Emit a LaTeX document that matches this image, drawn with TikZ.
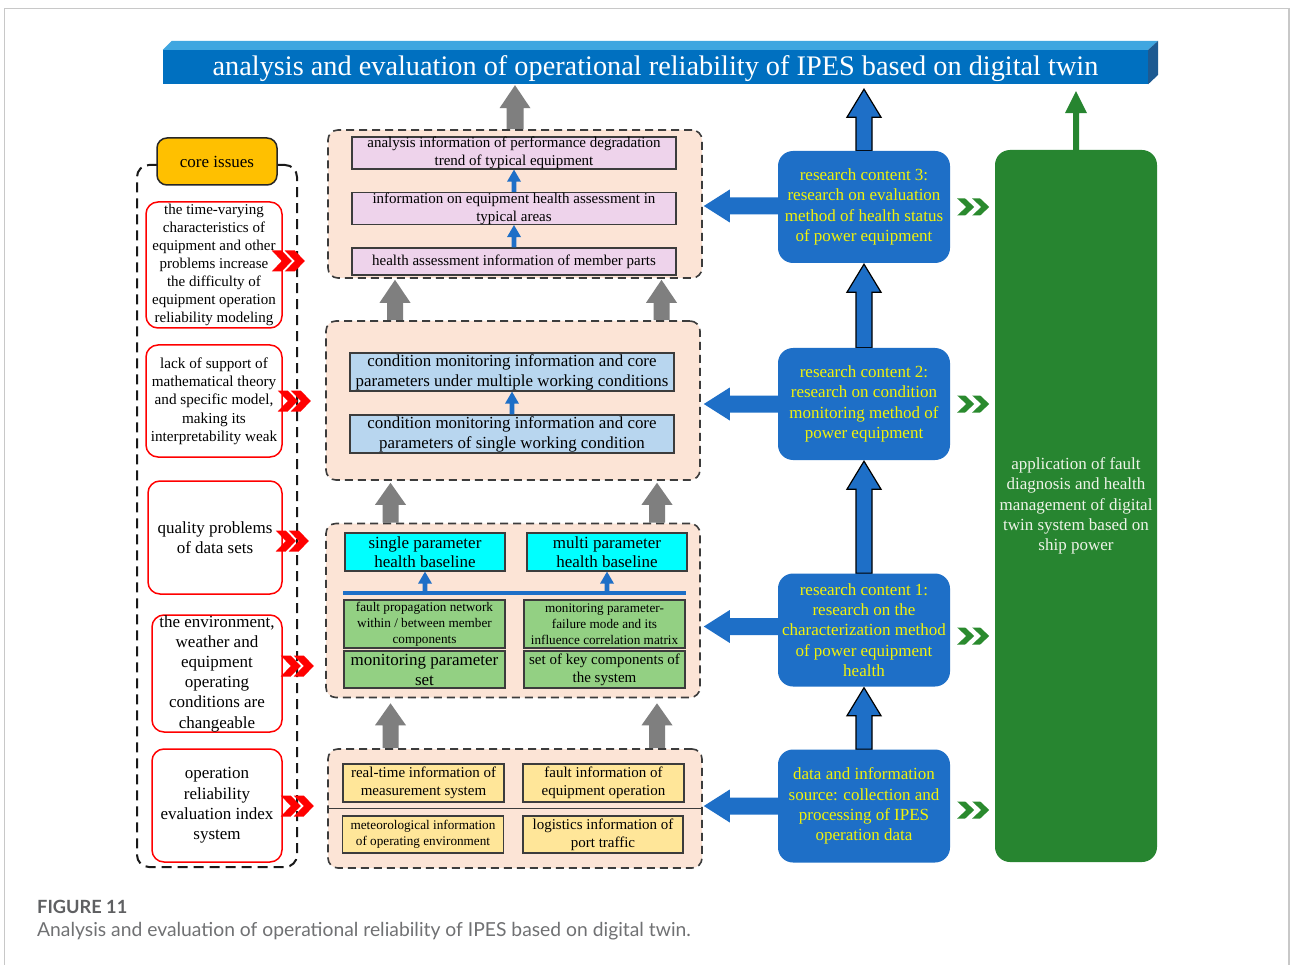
\documentclass[tikz,border=0pt]{standalone}
\usepackage{fontspec}
\setmainfont{Liberation Serif}
\newfontfamily\capfont{Lato}
\usetikzlibrary{calc}

\definecolor{titleblue}{HTML}{0070C0}
\definecolor{titletop}{HTML}{3FA6E0}
\definecolor{titleside}{HTML}{1D5A92}
\definecolor{peach}{HTML}{FCE4D6}
\definecolor{pinkbox}{HTML}{EED3EB}
\definecolor{skybox}{HTML}{B8D6EF}
\definecolor{cyanbox}{HTML}{00FFFF}
\definecolor{leafbox}{HTML}{93D083}
\definecolor{sandbox}{HTML}{FFE699}
\definecolor{coreorange}{HTML}{FFC000}
\definecolor{resblue}{HTML}{1E6FC7}
\definecolor{resyellow}{HTML}{F2F20A}
\definecolor{appgreen}{HTML}{278530}
\definecolor{chevgreen}{HTML}{2A8A2E}
\definecolor{arrowgray}{HTML}{7F7F7F}
\definecolor{framegray}{HTML}{C8C8C8}
\definecolor{labelgray}{HTML}{5F6062}
\definecolor{capgray}{HTML}{707173}
\definecolor{boxedge}{HTML}{3C3C3C}
\definecolor{apptext}{HTML}{EEF3E8}

\pgfdeclarelayer{back}
\pgfsetlayers{back,main}

% vertical block arrow: tail point, tip point, half shaft, half head, head length, style
\newcommand\uparrowblock[6]{%
  \path[#6] let \p1=#1, \p2=#2 in
    (\x1-#3,\y1) -- (\x1-#3,\y2-#5) -- (\x1-#4,\y2-#5) -- (\x1,\y2)
    -- (\x1+#4,\y2-#5) -- (\x1+#3,\y2-#5) -- (\x1+#3,\y1) -- cycle;}
% horizontal block arrow pointing left: tail point, tip point, half shaft, half head, head length, style
\newcommand\leftarrowblock[6]{%
  \path[#6] let \p1=#1, \p2=#2 in
    (\x1,\y1-#3) -- (\x2+#5,\y1-#3) -- (\x2+#5,\y1-#4) -- (\x2,\y1)
    -- (\x2+#5,\y1+#4) -- (\x2+#5,\y1+#3) -- (\x1,\y1+#3) -- cycle;}
% double chevrons
\newcommand\redchevrons[1]{%
  \fill[red, shift={#1}] (0,-10.5) -- (10,-10.5) -- (20,0) -- (10,10.5) -- (0,10.5) -- (10,0) -- cycle
    (13,-10.5) -- (23,-10.5) -- (33,0) -- (23,10.5) -- (13,10.5) -- (23,0) -- cycle;}
\newcommand\greenchevrons[1]{%
  \fill[chevgreen, shift={#1}] (0,-8.5) -- (8,-8.5) -- (17,0) -- (8,8.5) -- (0,8.5) -- (9,0) -- cycle
    (15,-8.5) -- (23,-8.5) -- (32,0) -- (23,8.5) -- (15,8.5) -- (24,0) -- cycle;}

\tikzset{
  container/.style={draw=boxedge, fill=peach, dash pattern=on 8pt off 5pt, line width=1.6pt,
    rounded corners=10pt, inner sep=0pt},
  infobox/.style={draw=boxedge, line width=1.3pt, inner sep=0pt, align=center},
  problem/.style={draw=red, line width=1.5pt, fill=white, rounded corners=12pt, inner sep=0pt,
    align=center, font={\fontsize{17}{20.2}\selectfont}},
  research/.style={fill=resblue, rounded corners=15pt, inner sep=0pt, align=center, text=resyellow,
    font={\fontsize{17}{20.3}\selectfont}},
}

\begin{document}
\begin{tikzpicture}[x=1pt,y=-1pt]
\useasboundingbox (0,0) rectangle (1290,965);
\begin{pgfonlayer}{back}
  \fill[white] (0,0) rectangle (1290,965);
\end{pgfonlayer}

% card frame
\draw[framegray, line width=1.2pt] (4.5,965) -- (4.5,8.5) -- (1289,8.5) -- (1289,965);

% title bar
\node[fill=titleblue, minimum width=985pt, minimum height=34pt, inner sep=0pt] (title) at (655.5,67) {};
\fill[titletop] (title.north west) -- ++(9,-9) -- ($(title.north east)+(10,-9)$) -- (title.north east) -- cycle;
\fill[titleside] (title.north east) -- ++(10,-9) -- ++(0,34) -- (title.south east) -- cycle;
\node[text=white, inner sep=0pt, yshift=-2pt, font={\fontsize{28.3}{32}\selectfont}] (titletext) at (title)
  {analysis and evaluation of operational reliability of IPES based on digital twin};

% core issues column
\node[draw=black!90, dash pattern=on 10pt off 6pt, line width=2pt, rounded corners=12pt,
  minimum width=160pt, minimum height=702pt, inner sep=0pt] (issues) at (217,516) {};
\node[draw=black!85, fill=coreorange, line width=1.5pt, rounded corners=10pt, minimum width=120pt,
  minimum height=47pt, inner sep=0pt, font={\fontsize{17}{20}\selectfont}] (core) at (217,161.5) {core issues};
\node[problem, minimum width=136pt, minimum height=126pt, font={\fontsize{15}{18}\selectfont}] (r1) at (214,265)
  {the time-varying\\characteristics of\\equipment and other\\problems increase\\the difficulty of\\equipment operation\\reliability modeling};
\node[problem, minimum width=136pt, minimum height=112pt, font={\fontsize{15.2}{18.3}\selectfont}] (r2) at (214,401)
  {lack of support of\\mathematical theory\\and specific model,\\making its\\interpretability weak};
\node[problem, minimum width=134pt, minimum height=113pt] (r3) at (215,537.5)
  {quality problems\\of data sets};
\node[problem, minimum width=130pt, minimum height=117pt] (r4) at (217,673.5)
  {the environment,\\weather and\\equipment\\operating\\conditions are\\changeable};
\node[problem, minimum width=130pt, minimum height=113pt] (r5) at (217,805.5)
  {operation\\reliability\\evaluation index\\system};

% middle containers
\node[container, minimum width=374pt, minimum height=148pt] (A) at (515,204) {};
\node[container, minimum width=374pt, minimum height=159pt] (B) at (513,400.5) {};
\node[container, minimum width=374pt, minimum height=174pt] (C) at (513,610.5) {};
\node[container, minimum width=374pt, minimum height=119pt] (D) at (515,808.5) {};

% health assessment information
\node[infobox, fill=pinkbox, minimum width=324pt, minimum height=32pt, font={\fontsize{15}{18}\selectfont}] (p1) at (514,153)
  {analysis information of performance degradation\\trend of typical equipment};
\node[infobox, fill=pinkbox, minimum width=324pt, minimum height=31pt, font={\fontsize{15}{18}\selectfont}] (p2) at (514,208.5)
  {information on equipment health assessment in\\typical areas};
\node[infobox, fill=pinkbox, minimum width=324pt, minimum height=27pt, font={\fontsize{15}{18}\selectfont}] (p3) at (514,261.5)
  {health assessment information of member parts};

% condition monitoring information
\node[infobox, fill=skybox, minimum width=324pt, minimum height=38pt, font={\fontsize{16.9}{20}\selectfont}] (s2) at (512,372)
  {condition monitoring information and core\\parameters under multiple working conditions};
\node[infobox, fill=skybox, minimum width=324pt, minimum height=38pt, font={\fontsize{16.9}{20}\selectfont}] (s1) at (512,434)
  {condition monitoring information and core\\parameters of single working condition};

% health baselines
\node[infobox, fill=cyanbox, minimum width=160pt, minimum height=38pt, font={\fontsize{17}{19}\selectfont}] (c1) at (425,552)
  {single parameter\\health baseline};
\node[infobox, fill=cyanbox, minimum width=160pt, minimum height=38pt, font={\fontsize{17}{19}\selectfont}] (c2) at (607,552)
  {multi parameter\\health baseline};
\coordinate (barL) at (343,593);
\coordinate (barR) at (686,593);
\draw[resblue, line width=4pt] (barL) -- (barR);
\node[infobox, fill=leafbox, minimum width=161pt, minimum height=48pt, font={\fontsize{13.2}{16}\selectfont}] (g1) at (424.5,624)
  {fault propagation network\\within / between member\\components};
\node[infobox, fill=leafbox, minimum width=161pt, minimum height=37pt, font={\fontsize{17}{20}\selectfont}] (g2) at (424.5,669.5)
  {monitoring parameter\\set};
\node[infobox, fill=leafbox, minimum width=161pt, minimum height=48pt, font={\fontsize{13.2}{16}\selectfont}] (g3) at (604.5,624)
  {monitoring parameter-\\failure mode and its\\influence correlation matrix};
\node[infobox, fill=leafbox, minimum width=161pt, minimum height=37pt, font={\fontsize{15}{18}\selectfont}] (g4) at (604.5,669.5)
  {set of key components of\\the system};

% data sources
\draw[boxedge, line width=1.3pt] (D.west) -- (D.east);
\node[infobox, fill=sandbox, minimum width=161pt, minimum height=38pt, font={\fontsize{15}{18}\selectfont}] (y1) at (423.5,783)
  {real-time information of\\measurement system};
\node[infobox, fill=sandbox, minimum width=161pt, minimum height=38pt, font={\fontsize{15}{18}\selectfont}] (y2) at (603.5,783)
  {fault information of\\equipment operation};
\node[infobox, fill=sandbox, minimum width=161pt, minimum height=37pt, font={\fontsize{13.2}{16}\selectfont}] (y3) at (423,834.5)
  {meteorological information\\of operating environment};
\node[infobox, fill=sandbox, minimum width=160pt, minimum height=37pt, font={\fontsize{15}{18}\selectfont}] (y4) at (603,834.5)
  {logistics information of\\port traffic};

% research contents
\node[research, minimum width=172pt, minimum height=112pt] (R3) at (864,207)
  {research content 3:\\research on evaluation\\method of health status\\of power equipment};
\node[research, minimum width=172pt, minimum height=112pt] (R2) at (864,404)
  {research content 2:\\research on condition\\monitoring method of\\power equipment};
\node[research, minimum width=172pt, minimum height=113pt] (R1) at (864,630)
  {research content 1:\\research on the\\characterization method\\of power equipment\\health};
\node[research, minimum width=172pt, minimum height=113pt] (R0) at (864,806)
  {data and information\\source: collection and\\processing of IPES\\operation data};

% application
\node[fill=appgreen, rounded corners=15pt, minimum width=162pt, minimum height=712pt, inner sep=0pt] (G) at (1076,506) {};
\node[align=center, text=apptext, inner sep=0pt, font={\fontsize{17}{20.3}\selectfont}] (Gtext) at (G)
  {application of fault\\diagnosis and health\\management of digital\\twin system based on\\ship power};

% small blue arrows inside containers
\uparrowblock{(p2.north)}{(p1.south)}{2.3pt}{7pt}{12pt}{fill=resblue}
\uparrowblock{(p3.north)}{(p2.south)}{2.3pt}{7pt}{12pt}{fill=resblue}
\uparrowblock{(s1.north)}{(s2.south)}{2.3pt}{7pt}{12pt}{fill=resblue}
\uparrowblock{(c1.south |- barL)}{(c1.south)}{2.3pt}{7pt}{12pt}{fill=resblue}
\uparrowblock{(c2.south |- barL)}{(c2.south)}{2.3pt}{7pt}{12pt}{fill=resblue}

\coordinate (gxa) at (395,0);
\coordinate (gxb) at (661.5,0);
\coordinate (gxc) at (390.5,0);
\coordinate (gxd) at (657,0);

\begin{pgfonlayer}{back}
  % grey flow arrows
  \uparrowblock{(A.north)}{($(title.south)+(0,1)$)}{8.5pt}{15.5pt}{23pt}{fill=arrowgray}
  \uparrowblock{(B.north -| gxa)}{($(A.south -| gxa)+(0,1)$)}{8pt}{15.5pt}{23pt}{fill=arrowgray}
  \uparrowblock{(B.north -| gxb)}{($(A.south -| gxb)+(0,1)$)}{8pt}{15.5pt}{23pt}{fill=arrowgray}
  \uparrowblock{(C.north -| gxc)}{($(B.south -| gxc)+(0,2)$)}{8pt}{15.5pt}{22pt}{fill=arrowgray}
  \uparrowblock{(C.north -| gxd)}{($(B.south -| gxd)+(0,2)$)}{8pt}{15.5pt}{22pt}{fill=arrowgray}
  \uparrowblock{(D.north -| gxc)}{($(C.south -| gxc)+(0,5)$)}{8pt}{15.5pt}{22pt}{fill=arrowgray}
  \uparrowblock{(D.north -| gxd)}{($(C.south -| gxd)+(0,5)$)}{8pt}{15.5pt}{22pt}{fill=arrowgray}
  % blue research arrows
  \uparrowblock{(R0.north)}{($(R1.south)+(0,1)$)}{8pt}{17pt}{28pt}{fill=resblue, draw=black, line width=1.2pt}
  \uparrowblock{(R1.north)}{($(R2.south)+(0,1)$)}{8pt}{17pt}{28pt}{fill=resblue, draw=black, line width=1.2pt}
  \uparrowblock{(R2.north)}{($(R3.south)+(0,1)$)}{8pt}{17pt}{28pt}{fill=resblue, draw=black, line width=1.2pt}
  \uparrowblock{(R3.north)}{($(title.south)+(0,5)$)}{8pt}{17pt}{28pt}{fill=resblue, draw=black, line width=1.2pt}
  \leftarrowblock{($(R3.west)+(4,-1)$)}{($(A.east |- R3.west)+(1,0)$)}{8.5pt}{16.5pt}{26pt}{fill=resblue}
  \leftarrowblock{($(R2.west)+(4,0)$)}{($(B.east |- R2.west)+(3,0)$)}{8.5pt}{16.5pt}{26pt}{fill=resblue}
  \leftarrowblock{($(R1.west)+(4,-3.5)$)}{($(C.east |- R1.west)+(3,0)$)}{8.5pt}{16.5pt}{26pt}{fill=resblue}
  \leftarrowblock{($(R0.west)+(4,0)$)}{($(D.east |- R0.west)+(1,0)$)}{8.5pt}{16.5pt}{26pt}{fill=resblue}
  % application arrow
  \uparrowblock{(G.north)}{($(title.south)+(0,7)$)}{3pt}{11pt}{22pt}{fill=appgreen}
\end{pgfonlayer}

% chevrons
\redchevrons{($(r1.east)+(-11,-4)$)}
\redchevrons{($(r2.east)+(-5,0)$)}
\redchevrons{($(r3.east)+(-7,3.5)$)}
\redchevrons{($(r4.east)+(-2,-7.5)$)}
\redchevrons{($(r5.east)+(-2,0.5)$)}
\greenchevrons{($(R3.east)+(7,0)$)}
\greenchevrons{($(R2.east)+(7,0)$)}
\greenchevrons{($(R1.east)+(7,6)$)}
\greenchevrons{($(R0.east)+(7,4)$)}

% caption
\node[anchor=base west, inner sep=0pt, text=labelgray, font={\capfont\bfseries\fontsize{18.2}{21}\selectfont}] (figlabel) at (37,913) {FIGURE 11};
\node[anchor=base west, inner sep=0pt, text=capgray, font={\capfont\fontsize{19.3}{22}\selectfont}] (figcaption) at (37,936)
  {Analysis and evaluation of operational reliability of IPES based on digital twin.};
\end{tikzpicture}
\end{document}
